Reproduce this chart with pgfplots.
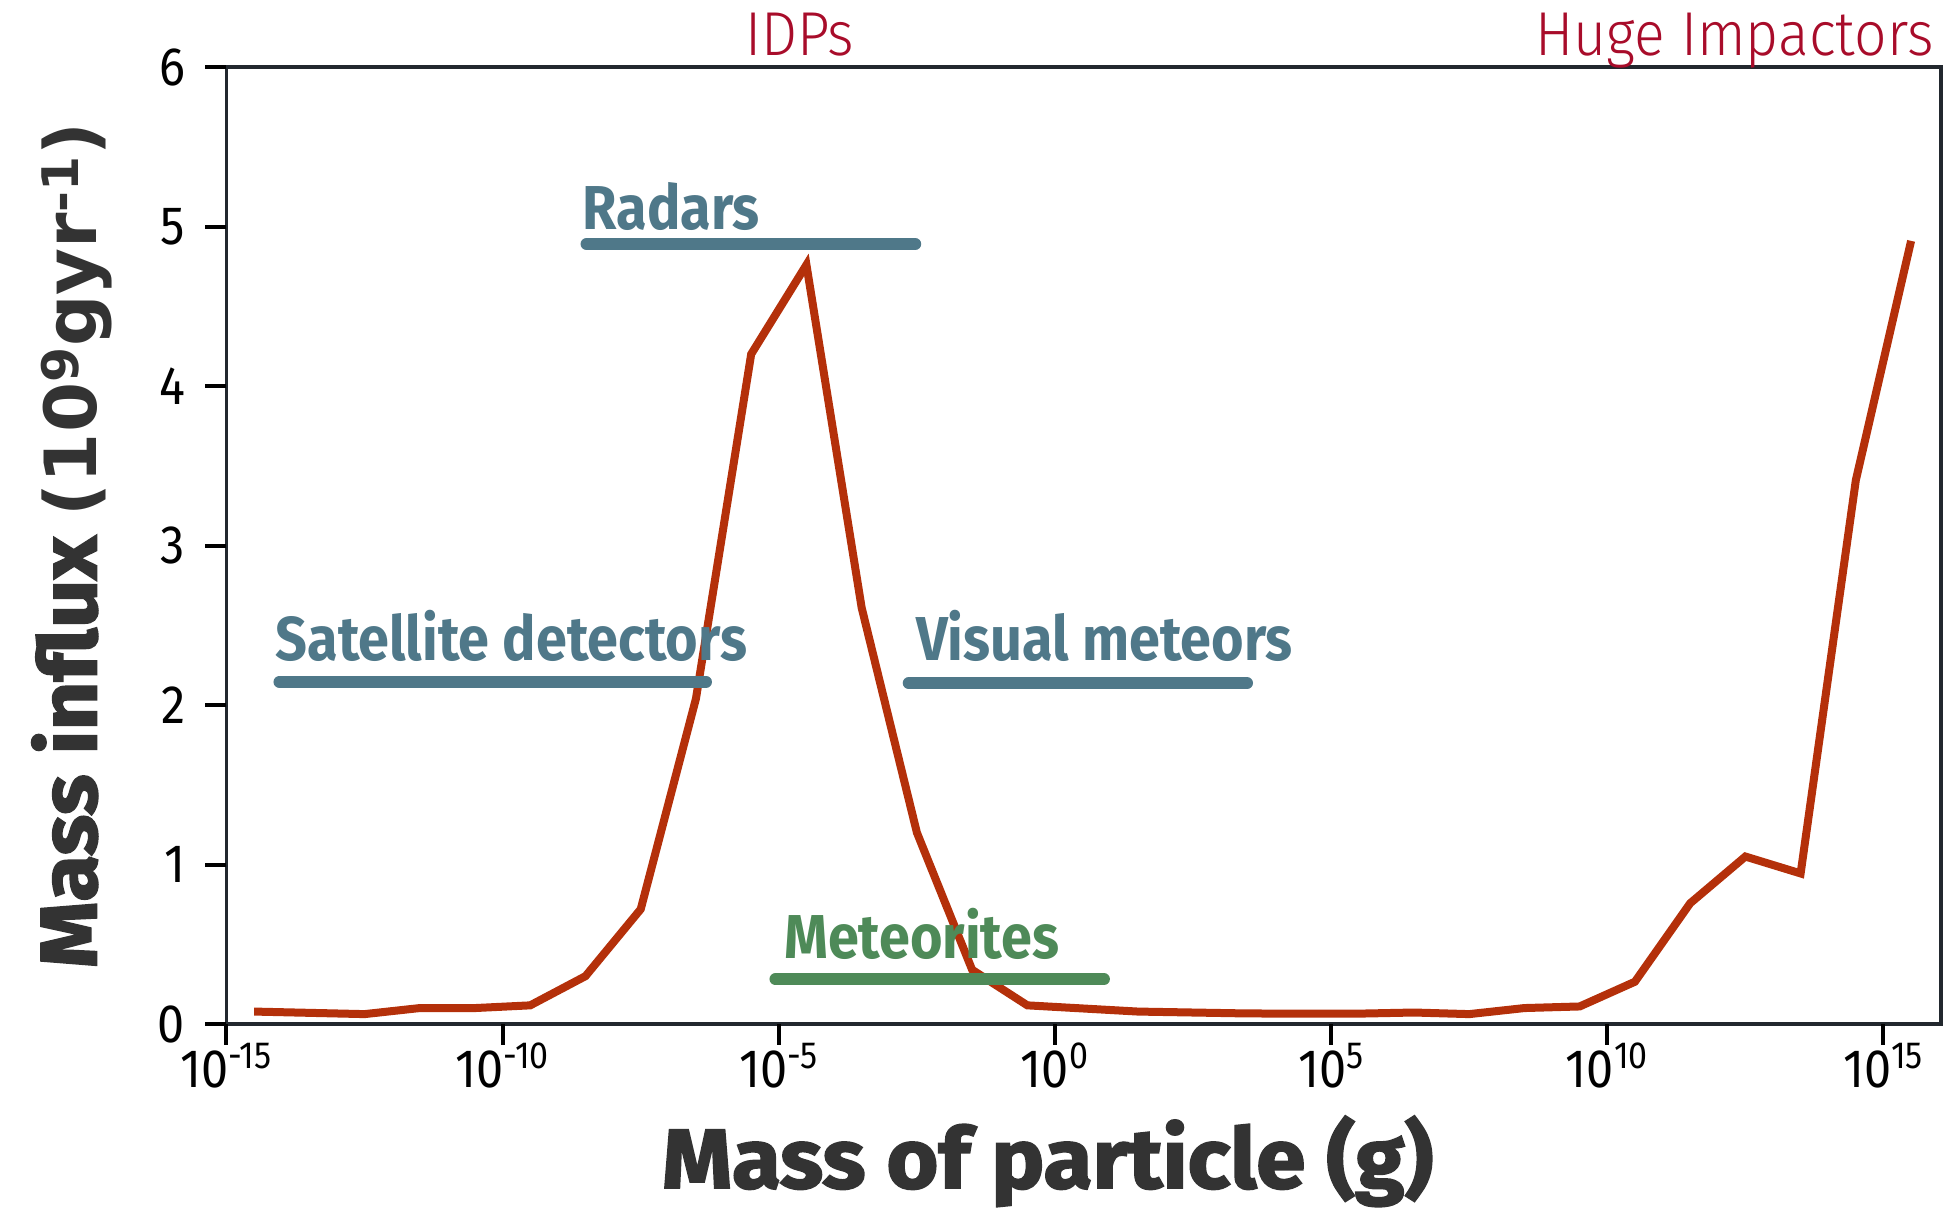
\documentclass[border=0pt]{standalone}
\usepackage{pgfplots}
\pgfplotsset{compat=1.18}
\usepackage{fontspec}
\setmainfont{Fira Sans}
\newfontfamily\tickfont{Fira Sans}[FakeStretch=0.9]
\newfontfamily\annfont{Fira Sans}[FakeStretch=0.9]
\newfontfamily\lightfont{Fira Sans Light}[FakeStretch=0.92]
\newfontfamily\labfont{Fira Sans}[FakeStretch=1.06, BoldFeatures={FakeBold=2.2}]
\newfontfamily\dvfont{DejaVu Sans}
\definecolor{linecol}{RGB}{180,48,10}
\definecolor{bluecol}{RGB}{79,120,137}
\definecolor{greencol}{RGB}{78,138,88}
\definecolor{redlab}{RGB}{168,12,42}
\definecolor{axiscol}{RGB}{34,40,46}
\definecolor{labcol}{RGB}{51,51,51}
\begin{document}
\begin{tikzpicture}
\useasboundingbox (-113.25pt,-91.5pt) rectangle (862.25pt,512pt);
\begin{axis}[
  scale only axis, width=857.25pt, height=478.5pt,
  xmode=log, log basis x=10,
  xmin=1e-15, xmax=1.1e16, ymin=0, ymax=6,
  xtick={1e-15,1e-10,1e-5,1,1e5,1e10,1e15},
  xticklabels={10\textsuperscript{-15},10\textsuperscript{-10},10\textsuperscript{-5},10\textsuperscript{0},10\textsuperscript{5},10\textsuperscript{10},10\textsuperscript{15}},
  ytick={0,1,2,3,4,5,6},
  yticklabels={0,1,2,3,4,5,6},
  minor tick num=0,
  tick align=outside,
  xtick pos=left, ytick pos=left,
  major tick length=10pt,
  major tick style={line width=2pt, draw=black},
  axis line style={line width=1.7pt, draw=axiscol},
  ticklabel style={font=\tickfont\fontsize{27}{27}\selectfont, text=black, inner sep=0pt},
  yticklabel style={xshift=-10.5pt},
  xticklabel style={anchor=base, yshift=-21.5pt},
  clip=false,
]
\addplot[line width=4pt, linecol, line join=miter] coordinates {
(3.162e-15,0.078) (3.162e-13,0.062) (3.162e-12,0.10) (3.162e-11,0.10)
(3.162e-10,0.117) (3.162e-9,0.30) (3.162e-8,0.72) (3.162e-7,2.04)
(3.162e-6,4.20) (3.162e-5,4.76) (3.162e-4,2.61) (3.162e-3,1.20)
(3.162e-2,0.34) (3.162e-1,0.117) (3.162e1,0.078) (3.162e3,0.066)
(3.162e5,0.065) (3.162e6,0.072) (3.162e7,0.062) (3.162e8,0.10)
(3.162e9,0.11) (3.162e10,0.265) (3.162e11,0.757) (3.162e12,1.05)
(3.162e13,0.944) (3.162e14,3.41) (3.162e15,4.91)
};
% x tick marks (below the bottom axis line)
\pgfplotsinvokeforeach{1e-15,1e-10,1e-5,1,1e5,1e10,1e15}{
  \addplot[line width=2pt, black, forget plot] coordinates {(#1,0) (#1,-0.13)};
}
% y tick marks
\pgfplotsinvokeforeach{0,1,2,3,4,5,6}{
  \draw[line width=2pt, black] (axis cs:1e-15,#1) -- ([xshift=-10.5pt]axis cs:1e-15,#1);
}
% instrument ranges
\addplot[line width=6pt, bluecol, line cap=round] coordinates {(3.3e-9,4.89) (2.95e-3,4.89)};
\addplot[line width=6pt, bluecol, line cap=round] coordinates {(9.1e-15,2.145) (4.8e-7,2.145)};
\addplot[line width=6pt, bluecol, line cap=round] coordinates {(2.25e-3,2.137) (3.0e3,2.137)};
\addplot[line width=6pt, greencol, line cap=round] coordinates {(8.7e-6,0.281) (7.7,0.281)};
\node[anchor=base west, text=bluecol, font=\annfont\bfseries\fontsize{31}{31}\selectfont, inner sep=0pt] at (axis cs:2.75e-9,4.98) {Radars};
\node[anchor=base west, text=bluecol, font=\annfont\bfseries\fontsize{31}{31}\selectfont, inner sep=0pt] at (axis cs:7.6e-15,2.28) {Satellite detectors};
\node[anchor=base west, text=bluecol, font=\annfont\bfseries\fontsize{31}{31}\selectfont, inner sep=0pt] at (axis cs:3.0e-3,2.28) {Visual meteors};
\node[anchor=base west, text=greencol, font=\annfont\bfseries\fontsize{31}{31}\selectfont, inner sep=0pt] at (axis cs:1.23e-5,0.413) {Meteorites};
\node[anchor=base, text=redlab, font=\lightfont\fontsize{31}{31}\selectfont, inner sep=0pt] at (axis cs:2.4e-5,6.07) {IDPs};
\node[anchor=base east, text=redlab, font=\lightfont\fontsize{31}{31}\selectfont, inner sep=0pt] at (axis cs:8.3e15,6.07) {Huge Impactors};
\node[anchor=base, text=labcol, font=\labfont\bfseries\fontsize{42}{42}\selectfont, inner sep=0pt] at (rel axis cs:0.479,-0.1714) {Mass of particle (g)};
\node[anchor=base, rotate=90, text=labcol, inner sep=0pt] at (rel axis cs:-0.0758,0.5) {{\labfont\bfseries\fontsize{40}{40}\selectfont Mass influx }{\dvfont\bfseries\fontsize{36}{36}\selectfont (10\textsuperscript{9}gyr\textsuperscript{-1})}};
\end{axis}
\end{tikzpicture}
\end{document}
